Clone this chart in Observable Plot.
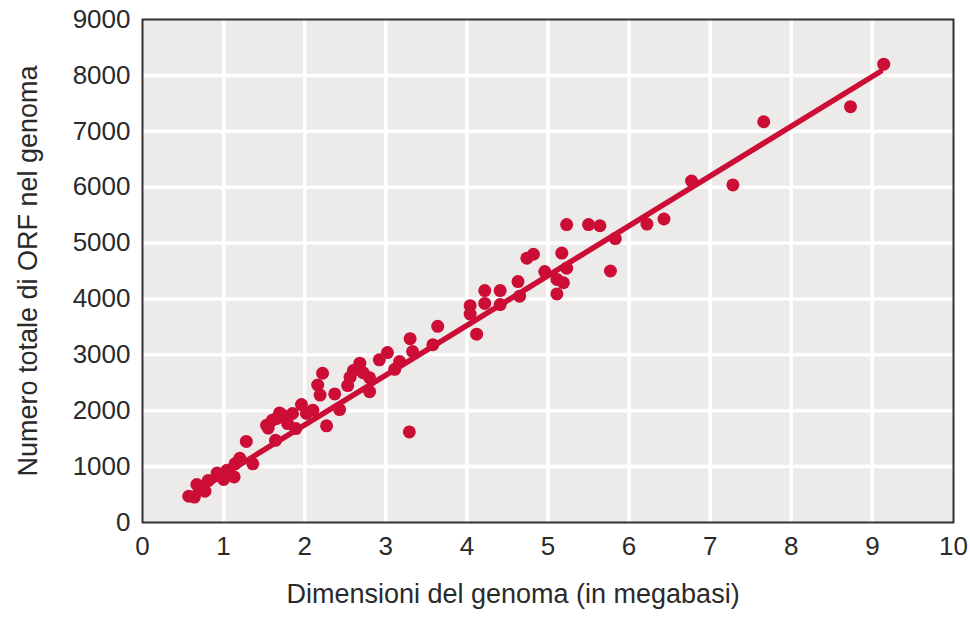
<!DOCTYPE html>
<html>
<head>
<meta charset="utf-8">
<script src="https://cdn.jsdelivr.net/npm/d3@7"></script>
<script src="https://cdn.jsdelivr.net/npm/@observablehq/plot@0.6"></script>
<style>
  html, body { margin: 0; padding: 0; background: #ffffff; }
  #chart { width: 970px; height: 617px; }
  svg { font-family: "Liberation Sans", Arial, sans-serif; }
</style>
</head>
<body>
<div id="chart"></div>
<script>
// Genome size (megabases) and total ORF count
const genomeMb = [
  0.57, 0.64, 0.67, 0.77, 0.81, 0.92, 1.00, 1.04, 1.13, 1.14,
  1.20, 1.28, 1.36, 1.53, 1.55, 1.60, 1.64, 1.65, 1.69, 1.73,
  1.79, 1.85, 1.89, 1.96, 2.02, 2.10, 2.16, 2.19, 2.22, 2.27,
  2.37, 2.43, 2.53, 2.56, 2.60, 2.68, 2.72, 2.80, 2.80, 2.92,
  3.02, 3.11, 3.17, 3.29, 3.30, 3.33, 3.58, 3.64, 4.04, 4.04,
  4.12, 4.22, 4.22, 4.41, 4.41, 4.63, 4.65, 4.74, 4.82, 4.96,
  5.11, 5.11, 5.17, 5.19, 5.23, 5.23, 5.50, 5.64, 5.77, 5.83,
  6.22, 6.43, 6.77, 7.28, 7.66, 8.73, 9.14
];
const orfCount = [
  470, 455, 680, 560, 750, 885, 770, 935, 815, 1050,
  1150, 1450, 1050, 1740, 1690, 1830, 1470, 1860, 1960, 1920,
  1770, 1950, 1680, 2110, 1950, 2010, 2460, 2280, 2670, 1730,
  2300, 2020, 2450, 2600, 2720, 2850, 2680, 2590, 2340, 2910,
  3040, 2740, 2880, 1620, 3290, 3060, 3180, 3510, 3880, 3730,
  3370, 4150, 3920, 4150, 3900, 4310, 4050, 4730, 4800, 4490,
  4090, 4350, 4820, 4290, 4550, 5330, 5330, 5310, 4500, 5080,
  5340, 5430, 6110, 6040, 7170, 7440, 8200
];
// Regression line endpoints
const lineX = [0.58, 9.1];
const lineY = [480, 8070];
// Tick values
const xTicks = [0, 1, 2, 3, 4, 5, 6, 7, 8, 9, 10];
const yTicks = [0, 1000, 2000, 3000, 4000, 5000, 6000, 7000, 8000, 9000];
const xLabel = "Dimensioni del genoma (in megabasi)";
const yLabel = "Numero totale di ORF nel genoma";

const points = genomeMb.map((x, i) => ({x, y: orfCount[i]}));
const fit = lineX.map((x, i) => ({x, y: lineY[i]}));

const red = "#cc0d36";
const ink = "#2a2a2a";

const chart = Plot.plot({
  width: 970,
  height: 617,
  marginLeft: 142,
  marginRight: 17,
  marginTop: 19,
  marginBottom: 95,
  style: {fontSize: "26px", fontFamily: "Liberation Sans, Arial, sans-serif", color: ink, background: "#ffffff"},
  x: {domain: [0, 10]},
  y: {domain: [0, 9000]},
  marks: [
    Plot.frame({fill: "#ecebe9", stroke: null}),
    Plot.gridX(xTicks.slice(1, -1), {stroke: "#ffffff", strokeOpacity: 1, strokeWidth: 3.5}),
    Plot.gridY(yTicks.slice(1, -1), {stroke: "#ffffff", strokeOpacity: 1, strokeWidth: 3.5}),
    Plot.axisX(xTicks, {tickSize: 0, tickPadding: 14, label: null, fontSize: 26, fill: ink, tickFormat: d3.format("d")}),
    Plot.axisY(yTicks, {tickSize: 0, tickPadding: 12, label: null, fontSize: 26, fill: ink, tickFormat: d3.format("d")}),
    Plot.dot(points, {x: "x", y: "y", r: 6.5, fill: red, stroke: null}),
    Plot.line(fit, {x: "x", y: "y", stroke: red, strokeWidth: 5.5}),
    Plot.frame({stroke: "#333333", strokeWidth: 2}),
    Plot.text([xLabel], {text: d => d, frameAnchor: "bottom", textAnchor: "middle", dy: 80, dx: -35, fontSize: 27, fill: ink}),
    Plot.text([yLabel], {text: d => d, frameAnchor: "left", textAnchor: "middle", rotate: -90, dx: -114, fontSize: 27, fill: ink})
  ]
});
document.getElementById("chart").appendChild(chart);
</script>
</body>
</html>
